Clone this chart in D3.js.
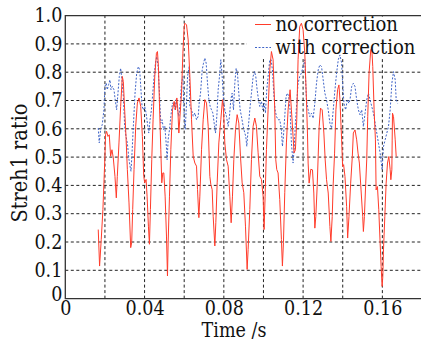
<!DOCTYPE html>
<html><head><meta charset="utf-8">
<script src="https://cdn.jsdelivr.net/npm/d3@7"></script>
<style>
html,body{margin:0;padding:0;background:#fff;}
svg text{font-family:"DejaVu Serif Condensed","DejaVu Serif",serif;font-stretch:condensed;fill:#111;}
</style></head>
<body><svg id="c" width="421" height="342"></svg>
<script>
// time in ms, values = Strehl ratio
const redTimeMs = [16.62,17.30,18.14,18.98,19.49,20.00,20.33,20.84,21.52,22.19,22.87,23.54,24.22,25.06,25.74,26.24,27.09,27.93,28.77,29.28,29.96,30.63,31.31,32.15,33.00,33.50,34.01,34.68,35.53,36.37,37.21,38.06,38.90,39.58,40.08,40.76,41.27,41.94,42.45,42.95,43.63,44.30,45.15,45.99,46.50,47.00,47.51,48.19,48.69,49.20,49.71,50.38,51.06,51.56,51.90,52.57,53.25,54.09,54.94,55.61,56.29,56.79,57.30,57.98,58.65,59.33,60.00,60.34,61.18,62.02,62.86,63.70,64.54,65.38,66.22,66.72,67.40,67.90,68.74,69.58,70.42,71.26,72.10,72.94,73.44,74.12,74.62,75.46,75.96,76.64,77.48,78.48,79.32,79.83,80.50,81.34,82.18,83.02,83.69,84.36,85.04,85.88,86.72,87.56,88.40,89.24,90.08,90.92,91.76,92.26,93.10,93.94,94.78,95.62,96.46,97.30,98.14,98.98,99.82,100.32,100.83,101.50,102.34,103.18,104.02,104.86,105.70,106.20,106.71,107.38,108.22,109.06,109.56,110.07,110.74,111.58,112.42,113.43,114.10,114.94,115.44,116.12,116.79,117.46,118.30,119.14,120.00,120.85,121.69,122.20,122.54,123.04,123.89,124.73,125.41,125.92,126.42,127.10,127.60,128.11,128.79,129.63,130.48,131.15,131.83,132.68,133.52,134.03,134.70,135.21,135.89,136.56,137.41,138.08,138.59,139.44,139.94,140.45,141.13,141.97,142.48,143.15,144.00,144.84,145.35,146.20,147.04,147.72,148.39,149.24,150.08,150.42,150.93,151.60,152.11,152.62,153.29,154.14,154.65,155.15,155.83,156.50,156.84,157.52,158.19,158.87,159.38,159.88,160.22,160.56,161.24,161.91,162.59,163.26,163.94,164.28,164.79,164.95,165.12,165.63,166.48,166.98];
const redValues = [.244,.115,.209,.315,.409,.503,.579,.591,.573,.579,.503,.526,.497,.432,.356,.432,.550,.679,.785,.767,.667,.573,.456,.338,.180,.197,.315,.456,.609,.691,.709,.679,.573,.432,.409,.421,.362,.256,.192,.315,.491,.632,.785,.867,.873,.820,.691,.526,.409,.444,.444,.362,.221,.080,.197,.362,.526,.667,.697,.667,.709,.667,.585,.656,.726,.867,.961,.973,.967,.914,.785,.632,.503,.479,.468,.385,.286,.362,.526,.632,.703,.691,.609,.432,.403,.385,.291,.186,.268,.409,.550,.632,.703,.667,.550,.491,.468,.362,.268,.362,.491,.597,.650,.620,.503,.409,.374,.256,.103,.174,.315,.491,.609,.638,.609,.515,.432,.421,.362,.244,.362,.526,.667,.808,.873,.844,.667,.491,.456,.444,.350,.209,.115,.197,.374,.550,.667,.738,.667,.573,.515,.526,.632,.844,.961,.973,.950,.867,.702,.585,.479,.408,.457,.455,.373,.249,.290,.396,.502,.608,.673,.667,.585,.490,.420,.373,.255,.202,.290,.408,.514,.667,.738,.755,.702,.561,.467,.473,.431,.325,.214,.290,.408,.502,.585,.596,.561,.514,.479,.384,.290,.237,.290,.408,.490,.643,.797,.879,.885,.820,.667,.561,.384,.396,.314,.196,.113,.043,.078,.172,.290,.408,.479,.502,.455,.420,.455,.560,.655,.643,.561,.502];
const blueTimeMs = [16.62,17.13,17.80,18.65,19.49,20.00,20.67,21.18,21.85,22.53,23.03,23.71,24.55,25.40,25.90,26.58,27.25,27.93,28.61,29.28,29.96,30.63,31.31,32.15,32.66,33.16,33.67,34.34,35.19,36.03,36.88,37.55,38.06,38.73,39.41,40.08,40.76,41.43,42.11,42.78,43.46,44.13,44.81,45.49,46.16,46.84,47.51,48.19,48.86,49.54,50.21,50.89,51.39,51.90,52.57,53.25,54.09,54.77,55.44,55.95,56.63,57.30,57.98,58.65,59.33,60.00,60.51,61.02,61.69,62.53,62.86,63.70,64.54,65.38,66.22,67.06,67.56,68.24,69.08,69.75,70.42,71.09,71.76,72.44,73.11,73.78,74.45,75.12,75.80,76.47,77.14,77.81,78.48,79.16,79.83,80.50,81.34,82.18,82.85,83.52,84.20,84.87,85.54,86.21,86.88,87.56,88.23,88.90,89.74,90.58,91.08,91.59,92.26,93.10,93.94,94.78,95.45,96.12,96.80,97.47,98.14,98.98,99.65,100.32,101.00,101.67,102.34,103.18,103.85,104.52,105.20,105.87,106.54,107.38,108.22,109.06,109.56,110.07,110.74,111.41,112.08,112.76,113.43,114.10,114.94,115.44,116.12,116.79,117.46,118.30,119.14,120.00,120.85,121.69,122.54,123.38,124.23,125.07,125.92,126.76,127.61,128.45,129.30,130.14,130.99,131.83,132.68,133.52,134.37,135.21,136.06,136.90,137.75,138.59,139.44,139.94,140.62,141.46,142.31,143.15,143.66,144.50,145.35,146.20,147.04,147.89,148.73,149.58,150.42,151.27,152.11,152.96,153.80,154.65,155.49,156.34,157.18,158.03,158.87,159.88,160.56,161.40,162.25,163.09,163.94,164.79,165.63,166.48,166.98,167.66];
const blueValues = [.603,.550,.597,.615,.667,.750,.761,.738,.756,.773,.738,.750,.738,.691,.667,.726,.785,.814,.773,.714,.609,.573,.550,.491,.468,.450,.515,.609,.726,.797,.820,.808,.750,.679,.667,.679,.656,.620,.585,.632,.667,.726,.785,.832,.855,.820,.726,.620,.632,.597,.609,.550,.491,.562,.597,.644,.691,.691,.667,.703,.667,.644,.691,.761,.785,.644,.597,.667,.785,.820,.679,.667,.644,.656,.632,.644,.691,.726,.808,.832,.850,.832,.761,.703,.679,.667,.656,.620,.585,.644,.738,.785,.844,.785,.703,.667,.644,.609,.644,.703,.726,.667,.761,.814,.797,.726,.667,.644,.609,.585,.573,.538,.597,.667,.726,.785,.803,.785,.738,.703,.679,.697,.667,.691,.656,.738,.785,.844,.844,.808,.726,.667,.644,.632,.632,.597,.538,.573,.644,.714,.726,.714,.667,.550,.479,.526,.620,.691,.761,.785,.797,.820,.844,.702,.667,.643,.655,.637,.690,.761,.808,.826,.820,.773,.726,.702,.667,.620,.602,.667,.737,.797,.844,.861,.832,.761,.690,.667,.702,.690,.702,.749,.761,.749,.702,.667,.649,.667,.608,.655,.702,.726,.702,.679,.655,.620,.585,.549,.514,.455,.537,.561,.585,.608,.667,.761,.802,.773,.702,.690];
const xTicks = [0, 0.04, 0.08, 0.12, 0.16];
const xTickLabels = ["0", "0.04", "0.08", "0.12", "0.16"];
const yTicks = [0,0.1,0.2,0.3,0.4,0.5,0.6,0.7,0.8,0.9,1.0];
const yTickLabels = ["0","0.1","0.2","0.3","0.4","0.5","0.6","0.7","0.8","0.9","1.0"];
const xGrid = [0.02,0.04,0.06,0.08,0.10,0.12,0.14,0.16];
const yGrid = [0.1,0.2,0.3,0.4,0.5,0.6,0.7,0.8,0.9];
const seriesNames = ["no correction", "with correction"];

const svg = d3.select("#c");
const L = 65.3, R = 422, T = 15.6, B = 298.6;
const x = d3.scaleLinear().domain([0, 0.18]).range([L, R]);
const y = d3.scaleLinear().domain([0, 1]).range([B, T]);

// gridlines
const g = svg.append("g");
g.selectAll("line.vx").data(xGrid).join("line")
  .attr("x1", d => x(d)).attr("x2", d => x(d)).attr("y1", B).attr("y2", T)
  .attr("stroke", "#222").attr("stroke-width", 1).attr("stroke-dasharray", "3,2.5");
g.selectAll("line.hy").data(yGrid).join("line")
  .attr("y1", d => y(d)).attr("y2", d => y(d)).attr("x1", L).attr("x2", R)
  .attr("stroke", "#222").attr("stroke-width", 1).attr("stroke-dasharray", "3,2.5");

// legend background
svg.append("rect").attr("x", 247).attr("y", T + 1).attr("width", R - 247).attr("height", 42).attr("fill", "#fff");

// data lines
const redData = redTimeMs.map((t, i) => [t / 1000, redValues[i]]);
const blueData = blueTimeMs.map((t, i) => [t / 1000, blueValues[i]]);
const line = d3.line().x(d => x(d[0])).y(d => y(d[1]));
svg.append("path").datum(blueData).attr("d", line).attr("fill", "none")
  .attr("stroke", "#3f64c8").attr("stroke-width", 1).attr("stroke-dasharray", "2,1.6");
svg.append("path").datum(redData).attr("d", line).attr("fill", "none")
  .attr("stroke", "#ff3b2a").attr("stroke-width", 1).attr("stroke-linejoin", "round");

// frame
svg.append("path").attr("d", `M${R},${T}H${L}V${B}H${R}`).attr("fill", "none").attr("stroke", "#333").attr("stroke-width", 1.3);

// axes via d3.axis
const xAxis = d3.axisBottom(x).tickValues(xTicks).tickFormat((d, i) => xTickLabels[i]).tickSize(0).tickPadding(3);
const gx = svg.append("g").attr("transform", `translate(0,${B})`).call(xAxis);
gx.select(".domain").remove();
gx.selectAll("text").attr("font-size", 19.5).attr("fill", "#111").style("font-family", null);

const yAxis = d3.axisLeft(y).tickValues(yTicks).tickFormat((d, i) => yTickLabels[i]).tickSize(0).tickPadding(3);
const gy = svg.append("g").attr("transform", `translate(${L},0)`).call(yAxis);
gy.select(".domain").remove();
gy.selectAll("text").attr("font-size", 19.5).attr("fill", "#111").style("font-family", null)
  .attr("dy", d => d === 0 ? "0.12em" : "0.32em");

// axis titles
svg.append("text").attr("x", 234).attr("y", 337).attr("text-anchor", "middle").attr("font-size", 19.5).text("Time /s");
svg.append("text").attr("transform", `translate(27,${163}) rotate(-90)`).attr("text-anchor", "middle").attr("font-size", 21.5).text("Streh1 ratio");

// legend
const legY = [24.5, 47.5];
const legColors = ["#ff3b2a", "#3f64c8"];
const legDash = [null, "2,1.6"];
seriesNames.forEach((n, i) => {
  svg.append("line").attr("x1", 255).attr("x2", 271).attr("y1", legY[i]).attr("y2", legY[i])
    .attr("stroke", legColors[i]).attr("stroke-width", 1).attr("stroke-dasharray", legDash[i]);
  svg.append("text").attr("x", 275.5).attr("y", legY[i] + 6.5).attr("font-size", 20).text(n);
});
</script></body></html>
